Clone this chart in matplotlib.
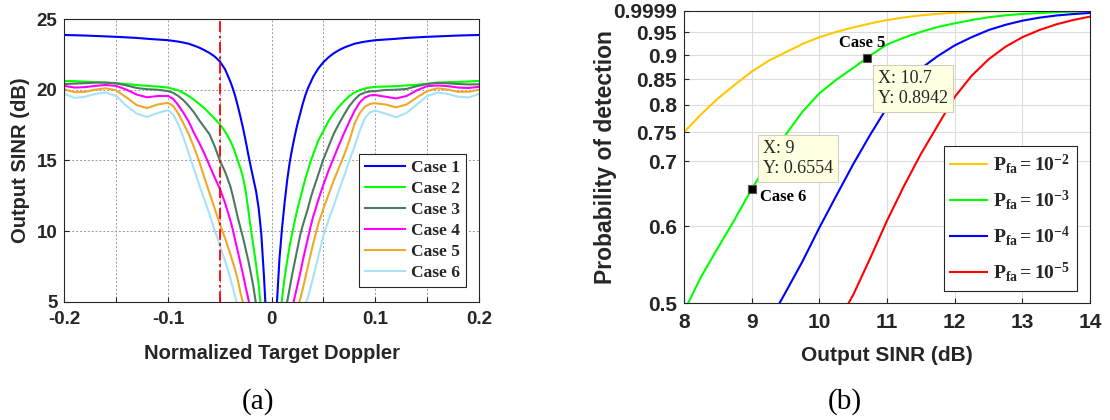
#!/usr/bin/env python
"""Output SINR vs Doppler (a) and Pd vs output SINR (b)."""
import matplotlib
matplotlib.use("Agg")
import matplotlib.pyplot as plt
from matplotlib.ticker import FixedLocator, NullLocator

SANS = "Liberation Sans"
SERIF = "Liberation Serif"
INK = "#262626"

# ---- panel (a): output SINR vs normalized target Doppler ----
DOPPLER = [-0.2, -0.19, -0.18, -0.17, -0.16, -0.15, -0.14, -0.13, -0.12, -0.11, -0.1,
           -0.095, -0.09, -0.085, -0.08, -0.075, -0.07, -0.065, -0.06, -0.055, -0.05, -0.045,
           -0.04, -0.0375, -0.035, -0.0325, -0.03, -0.0275, -0.025, -0.0225, -0.02, -0.0175,
           -0.015, -0.0125, -0.01, -0.0075, -0.005, -0.0025,
           0.0,
           0.0025, 0.005, 0.0075, 0.01, 0.0125, 0.015, 0.0175, 0.02, 0.0225, 0.025, 0.0275,
           0.03, 0.0325, 0.035, 0.0375, 0.04,
           0.045, 0.05, 0.055, 0.06, 0.065, 0.07, 0.075, 0.08, 0.085, 0.09, 0.095,
           0.1, 0.11, 0.12, 0.13, 0.14, 0.15, 0.16, 0.17, 0.18, 0.19, 0.2]

SINR_CASE1 = [23.87, 23.85, 23.83, 23.80, 23.77, 23.74, 23.70, 23.66, 23.60, 23.55, 23.50,
              23.45, 23.40, 23.33, 23.25, 23.12, 22.98, 22.80, 22.60, 22.35, 22.00, 21.45,
              20.60, 20.10, 19.50, 18.80, 18.05, 17.25, 16.35, 15.40, 14.50, 13.65,
              12.80, 11.60, 9.80, 6.90, 3.50, -1.0,
              -5.0,
              0.5, 4.8, 8.0, 10.2, 12.0, 13.6, 14.9, 15.9, 16.8, 17.6,
              18.3, 19.0, 19.6, 20.1, 20.5, 20.9,
              21.5, 21.95, 22.3, 22.58, 22.8, 22.98, 23.12, 23.25, 23.33, 23.4, 23.45,
              23.5, 23.55, 23.6, 23.66, 23.7, 23.74, 23.77, 23.8, 23.83, 23.85, 23.87]
SINR_CASE2 = [20.62, 20.60, 20.57, 20.53, 20.50, 20.46, 20.40, 20.33, 20.27, 20.22, 20.15,
              20.05, 19.95, 19.77, 19.55, 19.30, 19.00, 18.70, 18.33, 17.95, 17.55, 17.05,
              16.40, 16.00, 15.50, 14.95, 14.40, 13.75, 12.80, 11.50, 10.10, 8.90,
              7.60, 6.20, 4.30, 2.0, -0.5, -3.0,
              -6.0,
              -3.0, 0.0, 2.7, 5.2, 6.7, 7.9, 9.0, 9.9, 10.8, 11.6,
              12.3, 13.0, 13.7, 14.3, 14.9, 15.4,
              16.4, 17.1, 17.8, 18.35, 18.8, 19.2, 19.55, 19.8, 19.97, 20.08, 20.15,
              20.2, 20.22, 20.25, 20.3, 20.35, 20.42, 20.5, 20.53, 20.55, 20.58, 20.62]
SINR_CASE3 = [20.40, 20.43, 20.46, 20.50, 20.50, 20.45, 20.30, 20.12, 20.03, 20.00, 19.90,
              19.78, 19.55, 19.25, 18.85, 18.40, 17.85, 17.35, 16.85, 16.00, 15.00, 14.20,
              13.20, 12.50, 11.70, 10.90, 10.20, 9.50, 8.70, 7.90, 7.00, 6.00,
              4.80, 3.40, 1.80, 0.0, -2.0, -4.0,
              -6.0,
              -4.0, -2.0, 0.2, 2.3, 4.0, 5.0, 6.0, 7.0, 7.9, 8.8,
              9.7, 10.4, 11.0, 11.6, 12.3, 12.9,
              14.0, 15.1, 16.0, 16.9, 17.6, 18.25, 18.85, 19.3, 19.65, 19.8, 19.88,
              19.9, 19.98, 20.0, 20.05, 20.25, 20.4, 20.48, 20.45, 20.4, 20.37, 20.38]
SINR_CASE4 = [20.27, 20.15, 20.18, 20.27, 20.33, 20.27, 20.00, 19.65, 19.46, 19.55, 19.56,
              19.35, 18.90, 18.35, 17.75, 16.95, 16.25, 15.50, 14.65, 13.80, 13.00, 12.00,
              10.80, 10.10, 9.30, 8.50, 7.70, 6.90, 6.00, 5.20, 4.20, 3.10,
              2.00, 0.80, -0.5, -2.0, -3.5, -5.0,
              -6.0,
              -5.0, -3.5, -2.0, -0.5, 0.9, 2.3, 3.7, 4.6, 5.4, 6.2,
              7.0, 7.9, 8.7, 9.5, 10.3, 11.0,
              12.2, 13.3, 14.3, 15.2, 16.1, 16.95, 17.75, 18.5, 19.1, 19.45, 19.6,
              19.62, 19.5, 19.38, 19.55, 19.95, 20.25, 20.3, 20.25, 20.15, 20.12, 20.2]
SINR_CASE5 = [20.03, 19.82, 19.85, 20.00, 20.10, 19.95, 19.45, 18.90, 18.70, 18.95, 19.07,
              18.85, 18.30, 17.60, 16.85, 15.95, 14.95, 13.80, 12.70, 11.60, 10.50, 9.50,
              8.40, 7.80, 7.20, 6.50, 5.60, 4.90, 4.00, 3.00, 2.00, 1.00,
              0.0, -1.0, -2.0, -3.0, -4.0, -5.0,
              -6.0,
              -5.0, -4.0, -3.0, -2.0, -1.0, 0.0, 1.2, 2.4, 3.5, 4.5,
              5.2, 5.9, 6.7, 7.5, 8.3, 9.1,
              10.5, 11.6, 12.6, 13.6, 14.5, 15.4, 16.4, 17.6, 18.35, 18.8, 19.0,
              19.04, 18.95, 18.75, 18.95, 19.45, 19.9, 20.1, 20.0, 19.85, 19.85, 20.0]
SINR_CASE6 = [19.70, 19.42, 19.50, 19.70, 19.80, 19.55, 18.85, 18.30, 18.07, 18.35, 18.55,
              18.25, 17.55, 16.60, 15.50, 14.40, 13.30, 12.25, 11.20, 10.05, 9.00, 7.90,
              6.70, 6.00, 5.30, 4.60, 4.00, 3.30, 2.60, 1.90, 1.20, 0.40,
              -0.40, -1.20, -2.00, -3.00, -4.00, -5.00,
              -6.0,
              -5.0, -4.5, -4.0, -3.3, -2.6, -1.9, -1.2, -0.5, 0.3, 1.3,
              2.4, 3.4, 4.8, 5.3, 6.0, 6.7,
              8.2, 9.7, 10.8, 11.8, 12.9, 13.9, 15.0, 16.0, 17.1, 18.0, 18.4,
              18.52, 18.3, 18.05, 18.35, 18.95, 19.55, 19.8, 19.7, 19.5, 19.45, 19.7]

CASE_LABELS = ["Case 1", "Case 2", "Case 3", "Case 4", "Case 5", "Case 6"]
CASE_COLORS = ["#0000FF", "#00FF00", "#4B7A60", "#FF00FF", "#EDA92A", "#A8E2F5"]
MARKED_DOPPLER = -0.05

# ---- panel (b): probability of detection vs output SINR ----
PFA_LABELS = [r"$\mathbf{P_{fa}=10^{-2}}$", r"$\mathbf{P_{fa}=10^{-3}}$",
              r"$\mathbf{P_{fa}=10^{-4}}$", r"$\mathbf{P_{fa}=10^{-5}}$"]
PFA_COLORS = ["#FFC800", "#00FF00", "#0000FF", "#FF0000"]

SNR_PFA2 = [8.0, 8.25, 8.5, 8.75, 9.0, 9.25, 9.5, 9.75, 10.0, 10.25, 10.5, 10.75, 11.0,
            11.25, 11.5, 11.75, 12.0, 12.25, 12.5, 12.75, 13.0, 13.25, 13.5, 13.75, 14.0]
PD_PFA2 = [0.75, 0.782, 0.812, 0.839, 0.8655, 0.888, 0.906, 0.924, 0.939, 0.951, 0.961,
           0.970, 0.978, 0.984, 0.989, 0.9925, 0.995, 0.9967, 0.998, 0.9987, 0.9992,
           0.9995, 0.9997, 0.9998, 0.9999]
SNR_PFA3 = [8.06, 8.25, 8.5, 8.75, 9.0, 9.25, 9.5, 9.75, 10.0, 10.25, 10.5, 10.75, 11.0,
            11.25, 11.5, 11.75, 12.0, 12.25, 12.5, 12.75, 13.0, 13.25, 13.5, 13.75, 14.0]
PD_PFA3 = [0.5, 0.532, 0.570, 0.610, 0.6554, 0.699, 0.745, 0.787, 0.822, 0.849, 0.873,
           0.899, 0.923, 0.938, 0.951, 0.962, 0.9705, 0.978, 0.9844, 0.989, 0.9922,
           0.9945, 0.9963, 0.9977, 0.9988]
SNR_PFA4 = [9.41, 9.5, 9.75, 10.0, 10.25, 10.5, 10.75, 11.0, 11.25, 11.5, 11.75, 12.0,
            12.25, 12.5, 12.75, 13.0, 13.25, 13.5, 13.75, 14.0]
PD_PFA4 = [0.5, 0.513, 0.552, 0.598, 0.645, 0.695, 0.745, 0.795, 0.838, 0.872, 0.898,
           0.921, 0.939, 0.955, 0.967, 0.9765, 0.9835, 0.9885, 0.992, 0.9945]
SNR_PFA5 = [10.43, 10.5, 10.75, 11.0, 11.25, 11.5, 11.75, 12.0, 12.25, 12.5, 12.75,
            13.0, 13.25, 13.5, 13.75, 14.0]
PD_PFA5 = [0.5, 0.51, 0.556, 0.608, 0.660, 0.712, 0.762, 0.815, 0.857, 0.891, 0.918,
           0.939, 0.955, 0.968, 0.978, 0.986]

PD_TICKS = [0.5, 0.6, 0.7, 0.75, 0.8, 0.85, 0.9, 0.95, 0.9999]
TIP_X = [9.0, 10.7]
TIP_Y = [0.6554, 0.8942]
TIP_CASE = ["Case 6", "Case 5"]


def _style(ax):
    for s in ax.spines.values():
        s.set_color(INK); s.set_linewidth(0.8)
    ax.tick_params(direction="in", length=3.5, width=0.8, colors=INK)
    ax.set_axisbelow(True)


def panel_a(ax):
    series = [SINR_CASE1, SINR_CASE2, SINR_CASE3, SINR_CASE4, SINR_CASE5, SINR_CASE6]
    for ys, lab, col in zip(series, CASE_LABELS, CASE_COLORS):
        ax.plot(DOPPLER, ys, color=col, lw=1.5, label=lab)
    ax.axvline(MARKED_DOPPLER, color="#FF0000", lw=1.3, ls=(0, (6, 2, 1.5, 2)))
    ax.set_xlim(-0.2, 0.2); ax.set_ylim(5, 25)
    xt = [-0.2, -0.15, -0.1, -0.05, 0, 0.05, 0.1, 0.15, 0.2]
    ax.xaxis.set_major_locator(FixedLocator(xt))
    ax.set_xticklabels(["-0.2", "", "-0.1", "", "0", "", "0.1", "", "0.2"])
    ax.set_yticks([5, 10, 15, 20, 25])
    ax.grid(True, color="#9a9a9a", lw=0.7, ls=(0, (2, 2)))
    _style(ax)
    ax.tick_params(labelsize=13.5)
    ax.tick_params(axis="x", pad=7); ax.tick_params(axis="y", pad=5)
    ax.set_xlabel("Normalized Target Doppler", fontsize=14.5)
    ax.set_ylabel("Output SINR (dB)", fontsize=14.5)
    ax.xaxis.set_label_coords(0.5, -0.15)
    ax.yaxis.set_label_coords(-0.082, 0.5)
    leg = ax.legend(loc="lower right", bbox_to_anchor=(0.9686, 0.052), borderaxespad=0,
                    prop={"family": SERIF, "weight": "bold", "size": 12.5},
                    fancybox=False, framealpha=1, edgecolor=INK, handlelength=2.3,
                    labelspacing=0.28, borderpad=0.35, handletextpad=0.35)
    leg.get_frame().set_linewidth(0.8)


def panel_b(ax):
    curves = [(SNR_PFA2, PD_PFA2), (SNR_PFA3, PD_PFA3), (SNR_PFA4, PD_PFA4), (SNR_PFA5, PD_PFA5)]
    for (xs, ys), lab, col in zip(curves, PFA_LABELS, PFA_COLORS):
        ax.plot(xs, ys, color=col, lw=1.5, label=lab)
    ax.set_yscale("log")
    ax.set_xlim(8, 14); ax.set_ylim(0.5, 0.9999)
    ax.yaxis.set_major_locator(FixedLocator(PD_TICKS))
    ax.yaxis.set_minor_locator(NullLocator())
    ax.set_yticklabels([f"{t:g}" for t in PD_TICKS])
    ax.set_xticks(range(8, 15))
    ax.grid(True, color="#dcdcdc", lw=0.8)
    _style(ax)
    ax.tick_params(labelsize=15)
    ax.tick_params(axis="x", pad=7); ax.tick_params(axis="y", pad=5)
    ax.set_xlabel("Output SINR (dB)", fontsize=15)
    ax.set_ylabel("Probability of detection", fontsize=16.5)
    ax.xaxis.set_label_coords(0.5, -0.145)
    ax.yaxis.set_label_coords(-0.165, 0.5)

    # data tips
    ax.plot(TIP_X, TIP_Y, "s", color="k", ms=6, mec="#555", mew=0.8, zorder=6)
    tip_off = [(11, 12, "bottom"), (11, -12, "top")]
    case_off = [(8, -8), (-5, 15)]
    case_ha = ["left", "center"]
    for x, y, case, (dx, dy, va), (cx, cy), ha in zip(TIP_X, TIP_Y, TIP_CASE, tip_off,
                                                       case_off, case_ha):
        ax.annotate(f"X: {x:g}\nY: {y:.4f}", xy=(x, y), xytext=(dx, dy),
                    textcoords="offset pixels", ha="left", va=va, family=SERIF,
                    weight="normal", size=13, color=INK, linespacing=1.25, zorder=7,
                    bbox=dict(boxstyle="square,pad=0.28", fc="#FFFFE1", ec="#cfcfbd", lw=0.8))
        ax.annotate(case, xy=(x, y), xytext=(cx, cy), textcoords="offset pixels",
                    ha=ha, va="center", family=SERIF, weight="bold", size=12, color="k",
                    zorder=7)

    leg = ax.legend(loc="lower right", bbox_to_anchor=(0.968, 0.042), borderaxespad=0,
                    prop={"size": 14}, fancybox=False, framealpha=1, edgecolor=INK,
                    handlelength=1.9, labelspacing=0.62, borderpad=0.35,
                    handletextpad=0.3)
    leg.get_frame().set_linewidth(0.8)


def main():
    plt.rcParams.update({
        "font.family": SANS, "font.weight": "bold", "axes.labelweight": "bold",
        "text.color": INK, "axes.labelcolor": INK,
        "mathtext.fontset": "custom", "mathtext.rm": SERIF,
        "mathtext.bf": f"{SERIF}:bold", "mathtext.it": f"{SERIF}:italic",
    })
    W, H = 1110, 420
    fig = plt.figure(figsize=(W / 100, H / 100), dpi=100)
    ax1 = fig.add_axes([64.3 / W, 1 - 301.7 / H, 414.7 / W, 282.7 / H])
    ax2 = fig.add_axes([684 / W, 1 - 303.3 / H, 406 / W, 292.6 / H])
    panel_a(ax1)
    panel_b(ax2)
    fig.text(258 / W, 1 - 402 / H, "(a)", family=SERIF, weight="normal", size=21,
             color="k", ha="center", va="center")
    fig.text(845 / W, 1 - 402 / H, "(b)", family=SERIF, weight="normal", size=21,
             color="k", ha="center", va="center")
    fig.savefig("out.png", dpi=100)


if __name__ == "__main__":
    main()
